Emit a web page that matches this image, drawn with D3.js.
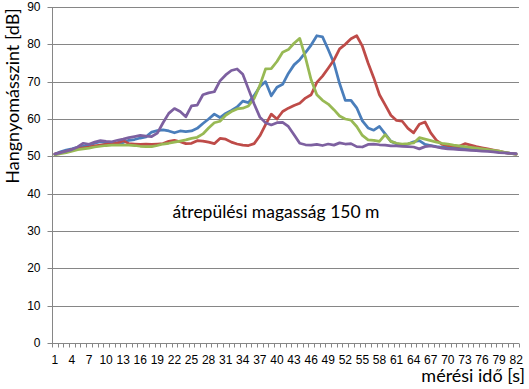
<!DOCTYPE html>
<html>
<head>
<meta charset="utf-8">
<script src="https://cdn.jsdelivr.net/npm/d3@7"></script>
<style>
  body { margin: 0; background: #fff; }
  svg { display: block; font-family: Lato, "Open Sans", sans-serif; }
  .grid line { stroke: #868686; stroke-width: 1; }
  .axis path, .axis line { stroke: #868686; }
  .axis text { fill: #000; font-size: 12px; }
</style>
</head>
<body>
<svg id="chart" width="529" height="389"></svg>
<script>
// measuring time 1..82 s
const seconds = d3.range(1, 83);
const yTicks = [0, 10, 20, 30, 40, 50, 60, 70, 80, 90];

// four flyover recordings [dB]
const blueSeries = [50.6, 51.2, 51.7, 52.0, 52.4, 52.7, 53.0, 53.5, 53.9, 53.6,
  53.4, 53.5, 53.7, 54.3, 54.5, 54.9, 55.2, 56.5, 56.9, 57.1,
  56.8, 56.3, 56.8, 56.6, 56.8, 57.5, 58.8, 60.0, 61.3, 60.4,
  61.5, 62.3, 63.2, 64.8, 64.4, 66.3, 68.7, 70.0, 66.2, 68.5,
  69.3, 72.2, 74.5, 75.9, 77.8, 79.8, 82.3, 82.0, 78.6, 75.0,
  69.5, 65.0, 65.0, 63.0, 59.5, 57.6, 57.0, 58.0, 56.0, 54.0,
  53.4, 53.0, 53.3, 53.9, 54.2, 53.2, 52.9, 52.6, 52.4, 52.5,
  52.4, 52.3, 52.2, 52.0, 51.9, 51.8, 51.6, 51.4, 51.2, 51.0,
  50.8, 50.6];

const redSeries = [50.6, 51.0, 51.3, 51.8, 52.1, 52.3, 52.5, 52.8, 53.0, 53.2,
  53.4, 53.6, 54.2, 53.4, 53.3, 53.2, 53.3, 53.2, 53.3, 53.4,
  54.0, 54.3, 53.9, 53.4, 53.5, 54.2, 54.1, 53.8, 53.4, 54.8,
  54.6, 53.8, 53.3, 53.0, 52.9, 53.4, 55.5, 58.5, 61.3, 60.0,
  62.0, 62.9, 63.6, 64.2, 65.6, 66.5, 69.8, 71.5, 73.6, 75.8,
  78.8, 80.0, 81.5, 82.3, 79.5, 75.0, 71.0, 66.5, 63.8, 61.0,
  59.6, 59.4, 57.5, 56.3, 58.6, 59.2, 56.3, 54.3, 53.2, 52.9,
  52.8, 52.7, 53.4, 53.0, 52.6, 52.3, 52.0, 51.7, 51.4, 51.0,
  50.8, 50.6];

const greenSeries = [50.4, 50.7, 51.0, 51.4, 51.8, 52.0, 52.2, 52.5, 52.7, 52.9,
  53.0, 53.0, 53.0, 53.0, 52.9, 52.7, 52.6, 52.6, 52.9, 53.3,
  53.5, 53.8, 54.1, 54.4, 54.8, 55.1, 56.0, 57.6, 59.0, 59.4,
  61.0, 62.0, 62.7, 62.9, 63.5, 65.5, 69.0, 73.4, 73.5, 75.4,
  77.9, 78.6, 80.3, 81.6, 76.5, 70.5, 66.5, 65.0, 64.0, 62.5,
  60.8, 60.0, 59.7, 58.0, 55.6, 54.4, 54.3, 54.0, 55.8, 54.0,
  53.5, 53.3, 53.4, 53.6, 55.0, 54.6, 54.2, 53.8, 53.5, 53.3,
  53.0, 52.8, 52.6, 52.4, 52.2, 52.0, 51.8, 51.6, 51.4, 51.1,
  50.8, 50.6];

const purpleSeries = [50.6, 51.0, 51.4, 51.8, 52.5, 53.5, 53.2, 53.8, 54.2, 54.0,
  53.9, 54.3, 54.6, 55.0, 55.3, 55.6, 55.4, 55.3, 56.2, 59.0,
  61.5, 62.8, 62.0, 60.6, 63.5, 63.7, 66.5, 67.0, 67.3, 70.2,
  71.8, 73.0, 73.4, 72.0, 68.0, 64.0, 60.5, 59.0, 58.4, 59.0,
  59.1, 58.0, 55.8, 53.5, 53.1, 53.0, 53.2, 52.9, 53.3, 53.0,
  53.6, 53.3, 53.4, 52.6, 52.5, 53.2, 53.3, 53.1, 53.0, 52.8,
  52.8, 52.7, 52.6, 52.5, 52.0, 52.6, 52.8, 52.5, 52.2, 52.0,
  51.9, 51.8, 51.7, 51.6, 51.5, 51.4, 51.3, 51.2, 51.0, 50.9,
  50.8, 50.7];

const seriesList = [
  {name: "blue", values: blueSeries, color: "#4a7ebb"},
  {name: "red", values: redSeries, color: "#be4b48"},
  {name: "green", values: greenSeries, color: "#98b954"},
  {name: "purple", values: purpleSeries, color: "#7d60a0"}
];

const svg = d3.select("#chart");
const plot = {left: 52, right: 519, top: 7, bottom: 343};

const x = d3.scaleBand().domain(seconds).range([plot.left, plot.right]);
const y = d3.scaleLinear().domain([0, 90]).range([plot.bottom, plot.top]);
const cx = d => x(d) + x.bandwidth() / 2;
const snap = v => Math.round(v) + 0.5;

// horizontal gridlines
svg.append("g").attr("class", "grid")
  .selectAll("line").data(yTicks.slice(1)).enter()
  .append("line")
  .attr("x1", plot.left).attr("x2", plot.right)
  .attr("y1", d => snap(y(d)))
  .attr("y2", d => snap(y(d)));

// y axis
const yAxis = svg.append("g").attr("class", "axis")
  .attr("transform", `translate(${snap(plot.left)},0)`)
  .call(d3.axisLeft(y).tickValues(yTicks).tickSize(5).tickPadding(7));
yAxis.selectAll(".tick").attr("transform", d => `translate(0,${snap(y(d))})`);
yAxis.select(".domain").attr("d", `M0,${snap(plot.top)}V${snap(plot.bottom)}`);

// x axis: labels every 3rd second, ticks on category borders
const xAxis = svg.append("g").attr("class", "axis")
  .attr("transform", `translate(0,${snap(plot.bottom)})`)
  .call(d3.axisBottom(x).tickValues(seconds.filter(d => (d - 1) % 3 === 0))
    .tickSize(0).tickPadding(12));
xAxis.select(".domain").attr("d", `M${plot.left},0H${plot.right}`);

const borders = seconds.map(d => x(d)).concat([plot.right]);
xAxis.selectAll("line.border").data(borders).enter()
  .append("line").attr("class", "border")
  .attr("x1", d => snap(d)).attr("x2", d => snap(d))
  .attr("y1", 0).attr("y2", 4)
  .attr("stroke", "#868686");

// series lines
const line = d3.line()
  .x((v, i) => cx(seconds[i]))
  .y(v => y(v));

svg.append("g").selectAll("path").data(seriesList).enter()
  .append("path")
  .attr("d", s => line(s.values))
  .attr("fill", "none")
  .attr("stroke", s => s.color)
  .attr("stroke-width", 2.75)
  .attr("stroke-linejoin", "round")
  .attr("stroke-linecap", "round");

// titles
svg.append("text")
  .attr("transform", "translate(19,96) rotate(-90)")
  .attr("text-anchor", "middle")
  .style("font-size", "18px")
  .text("Hangnyomásszint [dB]");

svg.append("text")
  .attr("x", 525).attr("y", 382)
  .attr("text-anchor", "end")
  .style("font-size", "18px")
  .text("mérési idő [s]");

svg.append("text")
  .attr("x", 276).attr("y", 218)
  .attr("text-anchor", "middle")
  .style("font-size", "17.5px")
  .text("átrepülési magasság 150 m");
</script>
</body>
</html>
